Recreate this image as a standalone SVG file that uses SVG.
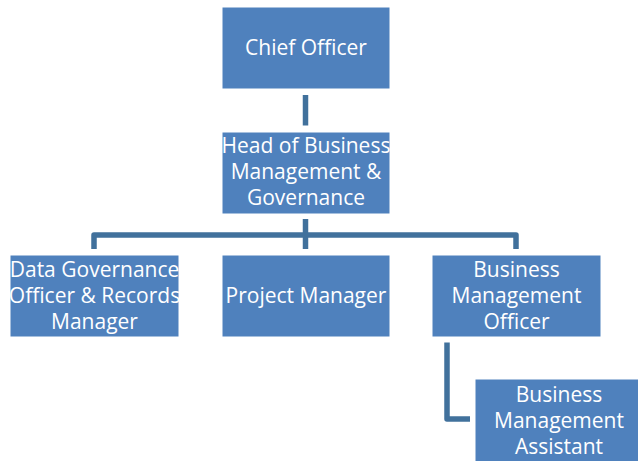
<svg xmlns="http://www.w3.org/2000/svg" width="638" height="461" viewBox="0 0 638 461">
<style>
.box{fill:#4F81BD;stroke:#ffffff;stroke-width:1}
.lbl{font-family:"Open Sans","Liberation Sans",sans-serif;font-size:21px;fill:#ffffff;text-anchor:middle}
.con{fill:none;stroke:#41719C;stroke-width:5.5;stroke-linejoin:round}
</style>
<rect width="638" height="461" fill="#ffffff"/>
<g id="connectors">
<path class="con" d="M305.5,95 V125.5"/>
<path class="con" d="M305.5,219 V249"/>
<path class="con" d="M94,249 V235 H516 V249"/>
<path class="con" d="M447,342.5 V419 H470"/>
</g>
<g id="chief-officer">
<rect class="box" x="222" y="7" width="168" height="82"/>
<text class="lbl" x="306" y="55">Chief Officer</text>
</g>
<g id="head-business-management">
<rect class="box" x="222" y="132" width="168" height="82"/>
<text class="lbl" x="306" y="152.5">Head of Business</text>
<text class="lbl" x="306" y="178.5">Management &amp;</text>
<text class="lbl" x="306" y="204.5">Governance</text>
</g>
<g id="data-governance-officer">
<rect class="box" x="10" y="255" width="169" height="82"/>
<text class="lbl" x="94.5" y="276.5">Data Governance</text>
<text class="lbl" x="94.5" y="302.5">Officer &amp; Records</text>
<text class="lbl" x="94.5" y="328.5">Manager</text>
</g>
<g id="project-manager">
<rect class="box" x="222" y="255" width="168" height="82"/>
<text class="lbl" x="306" y="302.5">Project Manager</text>
</g>
<g id="business-management-officer">
<rect class="box" x="432" y="255" width="169" height="82"/>
<text class="lbl" x="516.5" y="276.5">Business</text>
<text class="lbl" x="516.5" y="302.5">Management</text>
<text class="lbl" x="516.5" y="328.5">Officer</text>
</g>
<g id="business-management-assistant">
<rect class="box" x="475" y="379" width="168" height="84"/>
<text class="lbl" x="559" y="402.3">Business</text>
<text class="lbl" x="559" y="428.3">Management</text>
<text class="lbl" x="559" y="454.3">Assistant</text>
</g>
</svg>
